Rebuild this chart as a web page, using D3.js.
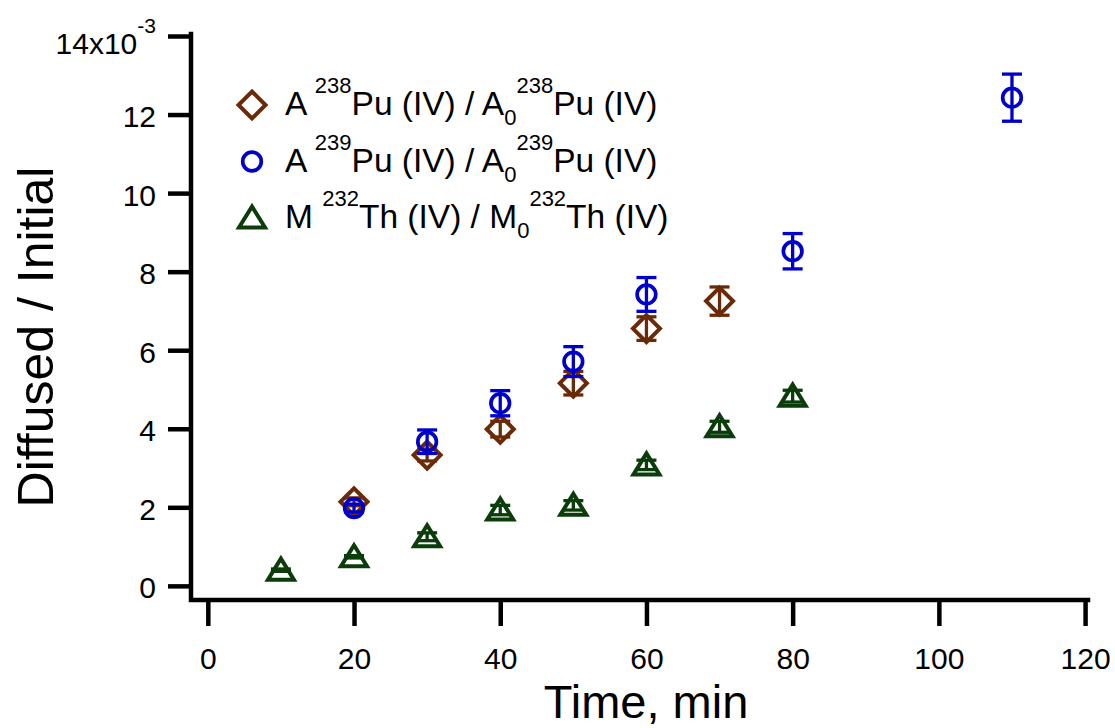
<!DOCTYPE html>
<html>
<head>
<meta charset="utf-8">
<script src="https://cdn.jsdelivr.net/npm/d3@7"></script>
<style>
  html, body { margin: 0; padding: 0; background: #fff; }
  svg { display: block; font-family: "Liberation Sans", Arial, sans-serif; }
</style>
</head>
<body>
<svg id="chart" width="1115" height="728"></svg>
<script>
// Diffusion of Pu(IV) and Th(IV): diffused fraction (×10^-3) versus time
const time238 = [20, 30, 40, 50, 60, 70];
const pu238 = [2.14, 3.33, 3.99, 5.16, 6.55, 7.25];
const pu238Err = [0.1, 0.15, 0.2, 0.3, 0.3, 0.36];

const time239 = [20, 30, 40, 50, 60, 80, 110];
const pu239 = [1.98, 3.67, 4.65, 5.71, 7.42, 8.52, 12.43];
const pu239Err = [0.1, 0.3, 0.32, 0.38, 0.43, 0.45, 0.6];

const timeTh = [10, 20, 30, 40, 50, 60, 70, 80];
const th232 = [0.40, 0.74, 1.25, 1.93, 2.05, 3.08, 4.05, 4.83];
const th232Err = [0.03, 0.03, 0.1, 0.12, 0.12, 0.12, 0.14, 0.15];

const xTicks = [0, 20, 40, 60, 80, 100, 120];
const yTicks = [0, 2, 4, 6, 8, 10, 12, 14];

const colors = { pu238: "#6a2a08", pu239: "#0000cc", th232: "#0a3d0a" };

const svg = d3.select("#chart");

const x = d3.scaleLinear().domain([-2.3, 120.4]).range([191, 1088]);
const y = d3.scaleLinear().domain([-0.36, 14]).range([600, 36]);

// ---- axes ----
const yAxis = svg.append("g")
  .attr("transform", `translate(${x.range()[0]},0)`)
  .call(d3.axisLeft(y).tickValues(yTicks).tickSize(23).tickSizeOuter(0).tickPadding(12)
    .tickFormat(d => d === 14 ? "14x10" : d));
const xAxis = svg.append("g")
  .attr("transform", `translate(0,${y.range()[0]})`)
  .call(d3.axisBottom(x).tickValues(xTicks).tickSize(26).tickSizeOuter(0));

[yAxis, xAxis].forEach(g => {
  g.attr("font-family", null).attr("font-size", null);
  g.select(".domain").remove();
  g.selectAll(".tick line").attr("stroke", "#000").attr("stroke-width", 4.5);
  g.selectAll(".tick text").attr("fill", "#000").style("font-size", "30px");
});
yAxis.selectAll(".tick text").attr("dy", "0.4em");
yAxis.selectAll(".tick text").filter(d => d === 14)
  .attr("dy", "0.57em")
  .append("tspan").attr("dy", -21).style("font-size", "21px").text("-3");
xAxis.selectAll(".tick text").attr("y", 69).attr("dy", null);

// axis lines meeting at the lower-left corner
svg.append("path")
  .attr("d", `M${x.range()[0]},${y.range()[1] - 2}V${y.range()[0]}H${x.range()[1]}`)
  .attr("fill", "none").attr("stroke", "#000").attr("stroke-width", 4.5)
  .attr("stroke-linejoin", "miter").attr("stroke-linecap", "square");

// axis titles
svg.append("text")
  .attr("transform", "translate(53,337) rotate(-90)")
  .attr("text-anchor", "middle").style("font-size", "50px").text("Diffused / Initial");
svg.append("text")
  .attr("x", 646).attr("y", 718)
  .attr("text-anchor", "middle").style("font-size", "47px").text("Time, min");

// ---- markers ----
function markerPath(kind) {
  if (kind === "diamond") return "M0,-13.5L13.5,0L0,13.5L-13.5,0Z";
  if (kind === "triangle") return "M0,-11.5L13,9.5L-13,9.5Z";
  return null;
}
function drawMarker(g, kind, color) {
  if (kind === "circle") {
    g.append("circle").attr("r", 9.3)
      .attr("fill", "none").attr("stroke", color).attr("stroke-width", 3.7);
  } else {
    g.append("path").attr("d", markerPath(kind))
      .attr("fill", "none").attr("stroke", color).attr("stroke-width", 4)
      .attr("stroke-linejoin", "miter");
  }
}

function drawSeries(times, vals, errs, kind, color) {
  const data = times.map((t, i) => ({ t, v: vals[i], e: errs[i] }));
  const g = svg.append("g");
  const eb = g.selectAll("g.err").data(data).join("g").attr("class", "err")
    .attr("stroke", color).attr("stroke-width", 3.3);
  eb.append("line")
    .attr("x1", d => x(d.t)).attr("x2", d => x(d.t))
    .attr("y1", d => y(d.v - d.e)).attr("y2", d => y(d.v + d.e));
  [1, -1].forEach(s => {
    eb.append("line")
      .attr("x1", d => x(d.t) - 10).attr("x2", d => x(d.t) + 10)
      .attr("y1", d => y(d.v + s * d.e)).attr("y2", d => y(d.v + s * d.e));
  });
  g.selectAll("g.mk").data(data).join("g").attr("class", "mk")
    .attr("transform", d => `translate(${x(d.t)},${y(d.v)})`)
    .each(function () { drawMarker(d3.select(this), kind, color); });
}

drawSeries(timeTh, th232, th232Err, "triangle", colors.th232);
drawSeries(time238, pu238, pu238Err, "diamond", colors.pu238);
drawSeries(time239, pu239, pu239Err, "circle", colors.pu239);

// ---- legend ----
const legendRows = [
  { kind: "diamond", color: colors.pu238, a: "A", a0: "A", iso: "238", el: "Pu" },
  { kind: "circle", color: colors.pu239, a: "A", a0: "A", iso: "239", el: "Pu" },
  { kind: "triangle", color: colors.th232, a: "M", a0: "M", iso: "232", el: "Th" }
];
legendRows.forEach((r, i) => {
  const cy = 105 + i * 56.5;
  const mg = svg.append("g").attr("transform", `translate(252,${cy})`);
  drawMarker(mg, r.kind, r.color);
  const t = svg.append("text").attr("x", 285).attr("y", cy + 10)
    .attr("fill", "#000").style("font-size", "33.5px");
  t.append("tspan").text(r.a + " ");
  t.append("tspan").attr("dy", -22).style("font-size", "22px").text(r.iso);
  t.append("tspan").attr("dy", 22).text(`${r.el} (IV) / ${r.a0}`);
  t.append("tspan").attr("dy", 10).style("font-size", "22px").text("0");
  t.append("tspan").attr("dy", -32).style("font-size", "22px").text(r.iso);
  t.append("tspan").attr("dy", 22).text(`${r.el} (IV)`);
});
</script>
</body>
</html>
